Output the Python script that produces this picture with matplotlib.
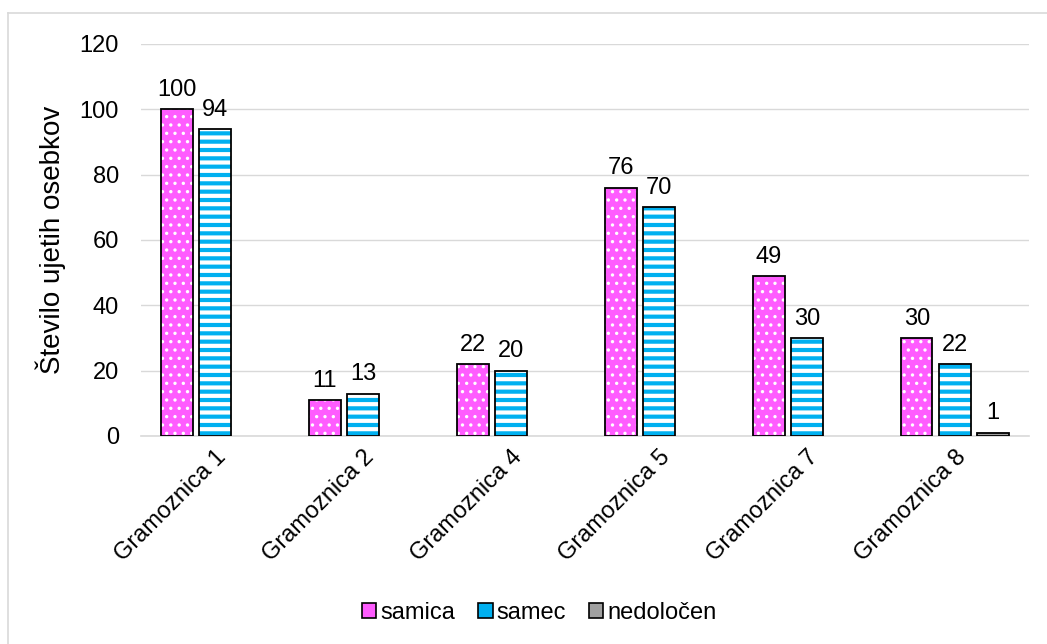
import numpy as np
import matplotlib
matplotlib.use("Agg")
import matplotlib.pyplot as plt
from matplotlib.lines import Line2D
from matplotlib.patches import Patch

plt.rcParams['font.family'] = ['Liberation Sans', 'DejaVu Sans']
plt.rcParams['hatch.linewidth'] = 1.4

# Catch counts per gravel pit
categories = ['Gramoznica 1', 'Gramoznica 2', 'Gramoznica 4', 'Gramoznica 5', 'Gramoznica 7', 'Gramoznica 8']
samica = [100, 11, 22, 76, 49, 30]
samec = [94, 13, 20, 70, 30, 22]
nedolocen = [0, 0, 0, 0, 0, 1]
series_names = ['samica', 'samec', 'nedoločen']

FS = 17

fig = plt.figure(figsize=(10.47, 6.44), dpi=100)
ax = fig.add_axes([0.1347, 0.323, 0.8481, 0.6087])

x = np.arange(len(categories))
width = 0.21
step = 0.257

styles = [
    dict(face='#FF5CFF', hatch='..', hcolor='white', hlw=1.2),
    dict(face='#00B0F0', hatch='--', hcolor='white', hlw=3.0),
    dict(face='#A0A0A0', hatch=None, hcolor='#A0A0A0', hlw=1.0),
]

for i, (vals, st) in enumerate(zip([samica, samec, nedolocen], styles)):
    pos = x + (i - 1) * step
    keep = [j for j, v in enumerate(vals) if v > 0 or i < 2]
    px = pos[keep]
    pv = [vals[j] for j in keep]
    # fill + hatch first, then the black outline on top
    with plt.rc_context({'hatch.linewidth': st['hlw']}):
        bars = ax.bar(px, pv, width, color=st['face'], edgecolor=st['hcolor'],
                      hatch=st['hatch'], linewidth=0, zorder=3)
    for p in bars:
        if hasattr(p, 'set_hatch_linewidth'):
            p.set_hatch_linewidth(st['hlw'])
    ax.bar(px, pv, width, fill=False, edgecolor='black', linewidth=1.3, zorder=4)
    for xx, v in zip(px, pv):
        ax.annotate(f'{v}', xy=(xx, v), xytext=(0, 6), textcoords='offset points',
                    ha='center', va='bottom', fontsize=FS)

ax.set_xlim(-0.5, len(categories) - 0.5)
ax.set_ylim(0, 120)
ax.set_yticks(np.arange(0, 121, 20))
ax.yaxis.grid(True, color='#D9D9D9', linewidth=1)
ax.set_axisbelow(True)
for side in ['top', 'right', 'left']:
    ax.spines[side].set_visible(False)
ax.spines['bottom'].set_color('#D9D9D9')
ax.spines['bottom'].set_linewidth(1.2)
ax.tick_params(axis='both', length=0, labelsize=FS)
ax.tick_params(axis='y', pad=16)
ax.set_xticks(x)
ax.set_xticklabels(categories, rotation=45, ha='right', rotation_mode='anchor')
ax.tick_params(axis='x', pad=7)
ax.set_ylabel('Število ujetih osebkov', fontsize=20, labelpad=10)

handles = [
    Patch(facecolor='#FF5CFF', edgecolor='black', linewidth=1.2),
    Patch(facecolor='#00B0F0', edgecolor='black', linewidth=1.2),
    Patch(facecolor='#A0A0A0', edgecolor='black', linewidth=1.2),
]
fig.legend(handles, series_names, loc='center', bbox_to_anchor=(0.515, 0.048), ncol=3,
           frameon=False, fontsize=FS, handlelength=0.6, handleheight=0.6,
           handletextpad=0.15, columnspacing=1.0)

# chart area border
fig.add_artist(Line2D([8 / 1047, 1.0], [1 - 13 / 644] * 2, color='#D9D9D9', linewidth=1.2))
fig.add_artist(Line2D([8 / 1047] * 2, [0.0, 1 - 13 / 644], color='#D9D9D9', linewidth=1.2))

fig.savefig('out.png', dpi=100)
